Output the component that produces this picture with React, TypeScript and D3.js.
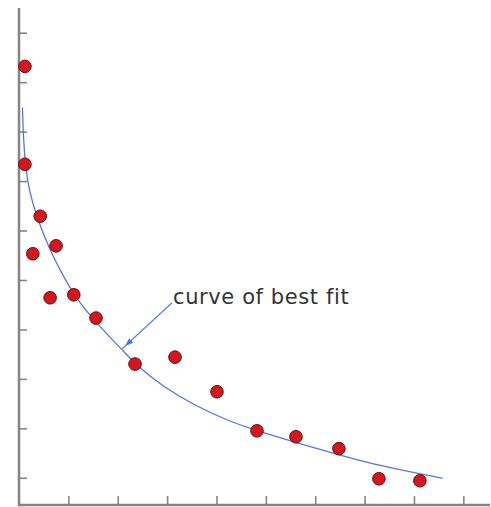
import React, { useEffect, useRef } from 'react';
import * as d3 from 'd3';

// measured points (x, y in chart units)
const pointX = [0.12, 0.12, 0.43, 0.75, 0.28, 0.63, 1.11, 1.56, 2.35, 3.16, 4.01, 4.82, 5.61, 6.48, 7.29, 8.12];
const pointY = [8.32, 6.34, 5.29, 4.69, 4.53, 3.64, 3.70, 3.23, 2.30, 2.44, 1.74, 0.95, 0.83, 0.59, -0.02, -0.06];

// best fit curve
const curveX = [0.07, 0.09, 0.13, 0.2, 0.36, 0.59, 0.9, 1.17, 1.64, 2.08, 2.37, 2.92, 3.6, 4.27, 4.81, 5.62, 6.5, 7.31, 8.58];
const curveY = [7.49, 6.83, 6.34, 5.82, 5.28, 4.68, 4.07, 3.6, 3.05, 2.6, 2.28, 1.84, 1.44, 1.14, 0.95, 0.71, 0.46, 0.24, -0.01];

const xTicks = [1, 2, 3, 4, 5, 6, 7, 8, 9];
const yTicks = [0, 1, 2, 3, 4, 5, 6, 7, 8, 9];

const labelText = 'curve of best fit';
const labelPos = [3.12, 3.52];
const arrowFrom = [3.1, 3.54];
const arrowTo = [2.09, 2.61];

const App = () => {
  const ref = useRef<SVGSVGElement>(null);
  const width = 491;
  const height = 507;

  useEffect(() => {
    const svg = d3.select(ref.current);
    svg.selectAll('*').remove();

    const x = d3.scaleLinear().domain([0, 9.54]).range([19, 490]);
    const y = d3.scaleLinear().domain([-0.55, 9.5]).range([505, 8]);

    const axisColor = '#858585';

    // x axis
    const xAxis = svg.append('g').attr('transform', `translate(0,${y(-0.55)})`)
      .call(d3.axisTop(x).tickValues(xTicks).tickSize(9).tickFormat(() => ''));
    xAxis.select('.domain').remove();
    xAxis.selectAll('.tick line').attr('stroke', axisColor).attr('stroke-width', 1.6);
    svg.append('line')
      .attr('x1', x(0)).attr('x2', x(9.54))
      .attr('y1', y(-0.55)).attr('y2', y(-0.55))
      .attr('stroke', axisColor).attr('stroke-width', 2.5);

    // y axis
    const yAxis = svg.append('g').attr('transform', `translate(${x(0)},0)`)
      .call(d3.axisRight(y).tickValues(yTicks).tickSize(8).tickFormat(() => ''));
    yAxis.select('.domain').remove();
    yAxis.selectAll('.tick line').attr('stroke', axisColor).attr('stroke-width', 1.6);
    svg.append('line')
      .attr('x1', x(0)).attr('x2', x(0))
      .attr('y1', y(9.5)).attr('y2', y(-0.55) + 1.2)
      .attr('stroke', axisColor).attr('stroke-width', 2.5);

    // curve of best fit
    const curveData = curveX.map((v, i) => [v, curveY[i]]);
    svg.append('path')
      .datum(curveData)
      .attr('fill', 'none')
      .attr('stroke', '#5577dd')
      .attr('stroke-width', 1.3)
      .attr('d', d3.line().x(d => x(d[0])).y(d => y(d[1])).curve(d3.curveBasis));

    // points
    const pts = pointX.map((v, i) => [v, pointY[i]]);
    svg.append('g').selectAll('circle')
      .data(pts)
      .join('circle')
      .attr('cx', d => x(d[0]))
      .attr('cy', d => y(d[1]))
      .attr('r', 6.3)
      .attr('fill', '#d8141c')
      .attr('stroke', '#5a1414')
      .attr('stroke-width', 1);

    // annotation arrow
    const ax1 = x(arrowFrom[0]), ay1 = y(arrowFrom[1]);
    const ax2 = x(arrowTo[0]), ay2 = y(arrowTo[1]);
    svg.append('line')
      .attr('x1', ax1).attr('y1', ay1).attr('x2', ax2).attr('y2', ay2)
      .attr('stroke', '#5a86e0').attr('stroke-width', 1.3);
    const ang = Math.atan2(ay2 - ay1, ax2 - ax1) * 180 / Math.PI;
    const hx = ax2 + (ax1 - ax2) * 0.12, hy = ay2 + (ay1 - ay2) * 0.12;
    svg.append('path')
      .attr('d', 'M4,0 L-4,-3 L-4,3 Z')
      .attr('transform', `translate(${hx},${hy}) rotate(${ang})`)
      .attr('fill', '#4a78dc');

    svg.append('text')
      .attr('x', x(labelPos[0]))
      .attr('y', y(labelPos[1]))
      .attr('fill', '#333')
      .attr('font-family', 'DejaVu Sans, Verdana, sans-serif')
      .attr('font-size', 21)
      .attr('letter-spacing', 0.6)
      .text(labelText);
  }, []);

  return (
    <svg ref={ref} width={width} height={height}
      style={{ position: 'absolute', left: 0, top: 0, background: '#fff' }} />
  );
};

export default App;
